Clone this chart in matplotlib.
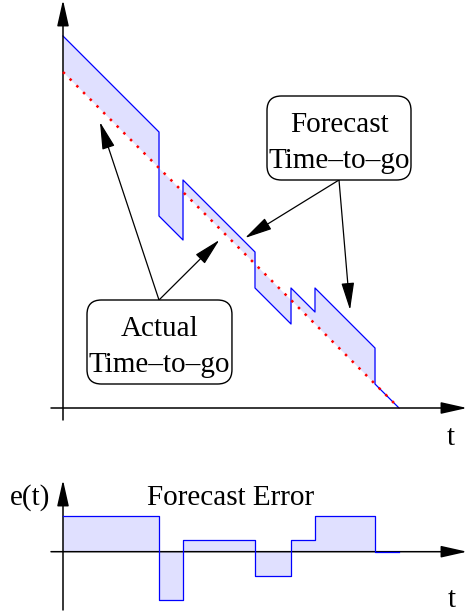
#!/usr/bin/env python3
"""
Forecast vs actual time-to-go, with the forecast error below.
"""
import matplotlib
matplotlib.use('Agg')
import matplotlib.pyplot as plt
from matplotlib.patches import FancyBboxPatch
import numpy as np

plt.rcParams['font.family'] = ['Liberation Serif', 'DejaVu Serif']

# data: time of each forecast update and the forecast error held until the next one
T_END = 28
t_breaks = [0, 8, 10, 16, 19, 21, 26, 28]
errors = [3, -4, 1, -2, 1, 3, 0]

box_text_fc = ['Forecast', 'Time\u2013to\u2013go']
box_text_act = ['Actual', 'Time\u2013to\u2013go']

BLUE = '#0000ff'
FILL = '#e0e0ff'
PX = 12.0  # pixels per data unit

# build the sawtooth forecast from the breaks and errors
xs, actual, forecast = [], [], []
for i, e in enumerate(errors):
    t0, t1 = t_breaks[i], t_breaks[i + 1]
    xs += [t0, t1]
    actual += [T_END - t0, T_END - t1]
    forecast += [T_END - t0 + e, T_END - t1 + e]
xs = np.array(xs, dtype=float)
actual = np.array(actual, dtype=float)
forecast = np.array(forecast, dtype=float)

W, H = 467, 615
fig = plt.figure(figsize=(W / 100, H / 100), dpi=100)

# ---- top panel -------------------------------------------------------
top_h = 460
ax = fig.add_axes([0, (H - top_h) / H, 1, top_h / H])
ax.set_xlim(-63 / PX, (W - 63) / PX)
ax.set_ylim(-(top_h - 408) / PX, 408 / PX)
ax.set_axis_off()

axis_arrow = dict(arrowstyle='-|>,head_length=1.6,head_width=0.36',
                  mutation_scale=10, lw=1.1, color='black',
                  shrinkA=0, shrinkB=0)
ax.annotate('', xy=(0, 408 / PX), xytext=(0, -1), arrowprops=axis_arrow,
            annotation_clip=False)
ax.annotate('', xy=((W - 63) / PX, 0), xytext=(-1, 0), arrowprops=axis_arrow,
            annotation_clip=False)

ax.fill_between(xs, actual, forecast, color=FILL, lw=0, zorder=1)
ax.plot(xs, forecast, color=BLUE, lw=0.9, zorder=2)
ax.plot([0, T_END], [T_END, 0], color='red', lw=1.8,
        linestyle=(0, (1, 2.8)), zorder=3)

ax.text(32.33, -3.08, 't', fontsize=21, ha='center', va='baseline')

note_arrow = dict(arrowstyle='-|>,head_length=1.7,head_width=0.4',
                  mutation_scale=10, lw=0.9, color='black',
                  shrinkA=0, shrinkB=0)
# forecast label box
ax.add_patch(FancyBboxPatch((17, 19), 12, 7,
                            boxstyle='round,pad=0,rounding_size=1.2',
                            fc='white', ec='black', lw=1, zorder=4))
ax.text(23, 23, box_text_fc[0], fontsize=21, ha='center', va='baseline', zorder=5)
ax.text(23, 20, box_text_fc[1], fontsize=21, ha='center', va='baseline', zorder=5)
ax.annotate('', xy=(15.17, 14.17), xytext=(23, 19), arrowprops=note_arrow)
ax.annotate('', xy=(23.92, 8.17), xytext=(23, 19), arrowprops=note_arrow)

# actual label box
ax.add_patch(FancyBboxPatch((2, 2), 12.08, 7,
                            boxstyle='round,pad=0,rounding_size=1.2',
                            fc='white', ec='black', lw=1, zorder=4))
ax.text(8.04, 6, box_text_act[0], fontsize=21, ha='center', va='baseline', zorder=5)
ax.text(8.04, 3, box_text_act[1], fontsize=21, ha='center', va='baseline', zorder=5)
ax.annotate('', xy=(3.08, 23.83), xytext=(8.0, 9.0), arrowprops=note_arrow)
ax.annotate('', xy=(13.03, 14.0), xytext=(8.0, 9.0), arrowprops=note_arrow)

# ---- bottom panel ----------------------------------------------------
bot_top = 462
zero_y = 551.7
ax2 = fig.add_axes([0, 0, 1, (H - bot_top) / H])
ax2.set_xlim(-63 / PX, (W - 63) / PX)
ax2.set_ylim(-(H - zero_y) / PX, (zero_y - bot_top) / PX)
ax2.set_axis_off()

ax2.annotate('', xy=(0, (zero_y - 480) / PX), xytext=(0, -(610 - zero_y) / PX),
             arrowprops=axis_arrow, annotation_clip=False)
ax2.annotate('', xy=((W - 63) / PX, 0), xytext=(-1, 0), arrowprops=axis_arrow,
             annotation_clip=False)

steps = errors + [errors[-1]]
ax2.fill_between(t_breaks, 0, steps, step='post', color=FILL, lw=0, zorder=1)
ax2.step(t_breaks, steps, where='post', color=BLUE, lw=0.9, zorder=3)

ax2.text(13.97, 3.89, 'Forecast Error', fontsize=21, ha='center', va='baseline')
ax2.text(-1.08, 3.89, 'e(t)', fontsize=21, ha='right', va='baseline')
ax2.text(32.37, -4.58, 't', fontsize=21, ha='center', va='baseline')

fig.savefig('out.png', dpi=100)
